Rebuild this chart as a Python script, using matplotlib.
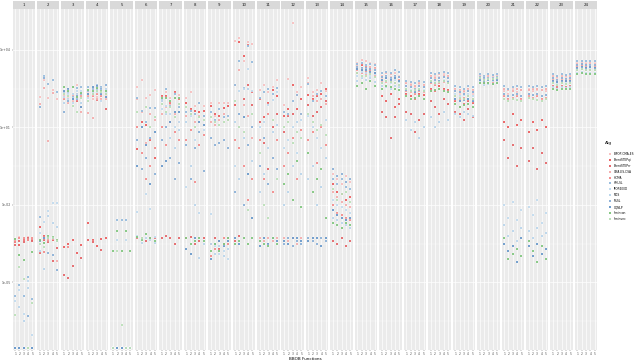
"""BBOB per-function log10 error by dimension index, faceted by function."""
import matplotlib
matplotlib.use("Agg")
import matplotlib.pyplot as plt
import numpy as np

ALGS = ["BIPOP-CMA-ES", "BrentSTEPqi", "BrentSTEPrr", "CMA-ES-CSA", "HCMA",
        "HMLSL", "IPOP400D", "MCS", "MLSL", "OQNLP", "fmincon", "fminunc"]
COLORS = ["#F4A6A6", "#E41A1C", "#D9262B", "#F08A8A", "#EF5C5C",
          "#6A9FCF", "#A8CCE8", "#9CC3E3", "#5B8FC7", "#2C6FB5",
          "#4DAF4A", "#9ED39A"]
DIMS = [1, 2, 3, 4, 5]
YTICKS = [-5, -2, 1, 4]
YTICK_LABELS = ["1e-05", "1e-02", "1e+01", "1e+04"]

# log10 values, one row per dimension, one column per algorithm (ALGS order)
F1 = [[-3.31, -3.42, -3.54, -7.55, -3.40, -5.54, -5.73, -7.55, -7.55, -7.55, -3.31, -6.27],
      [-3.23, -3.54, -3.40, -7.55, -3.30, -5.12, -5.31, -5.96, -7.55, -7.55, -3.96, -4.42],
      [-3.35, -3.38, -3.45, -7.55, -3.30, -5.54, -6.23, -6.50, -7.55, -7.55, -4.12, -4.88],
      [-3.23, -3.38, -3.30, -7.55, -3.35, -4.80, -4.96, -5.23, -6.31, -7.55, -7.55, -7.55],
      [-3.35, -3.35, -3.40, -7.55, -3.30, -5.65, -7.04, -7.55, -7.55, -7.55, -3.81, -5.81]]
F2 = [[2.19, -2.85, -3.85, 1.90, -3.40, -2.46, -3.08, -3.77, 1.79, -3.40, -3.38, -3.50],
      [2.85, -3.19, -3.38, 2.54, -3.81, 3.00, -2.65, -4.50, 2.90, -3.30, -3.46, -3.65],
      [2.15, -3.31, -3.42, 0.46, -3.35, 2.69, -2.23, -2.42, -3.88, -3.30, -3.19, -3.30],
      [2.46, -3.35, -4.19, 2.31, -3.30, 2.85, -1.92, -2.69, -3.96, -3.30, -3.23, -3.30],
      [2.10, -3.38, -3.69, -4.19, -3.40, 2.38, -1.92, -2.85, -4.54, -3.40, -3.38, -3.40]]
F3 = [[2.30, -3.62, -4.73, 2.20, 2.10, 2.38, 2.19, 1.96, 1.58, 2.40, 2.58, 2.30],
      [2.19, -3.50, -4.85, 1.96, -3.62, 2.38, 2.30, 2.10, 2.00, 2.50, 2.40, 2.20],
      [2.10, -3.35, -4.35, 2.00, 2.20, 2.19, 1.96, 2.30, 2.08, 2.08, 2.58, 1.81],
      [2.62, -3.88, 2.00, 2.20, 2.30, 2.54, 2.40, 2.30, 2.10, 2.20, 2.19, 1.58],
      [1.77, -3.54, -4.04, 1.58, 2.20, 2.58, 2.42, 1.96, 2.30, 1.77, 2.31, 2.12]]
F4 = [[2.31, -2.69, -3.35, 1.56, 2.20, 2.58, 2.12, 2.30, 2.40, 2.30, 2.46, 2.00],
      [2.08, -3.35, -3.42, 1.35, 2.20, 2.31, 2.40, 2.30, 2.50, 2.58, 2.42, 2.30],
      [2.19, -3.58, 2.04, 2.10, 2.30, 2.65, 2.35, 2.40, 2.50, 2.60, 2.54, 2.40],
      [2.27, -3.31, -3.73, 2.08, 2.20, 2.58, 2.00, 2.40, 2.50, 2.30, 2.42, 2.35],
      [2.20, -3.27, 1.69, 2.10, 2.30, 2.46, 2.35, 2.50, 2.62, 2.19, 2.40, 2.30]]
F5 = [[-7.55, -7.55, -7.55, -7.55, -7.55, -7.55, -7.55, -7.55, -7.55, -7.55, -3.77, -7.55],
      [-7.55, -7.55, -7.55, -7.55, -7.55, -2.58, -3.38, -7.55, -7.55, -7.55, -3.00, -3.77],
      [-7.55, -7.55, -7.55, -7.55, -7.55, -2.58, -7.55, -7.55, -7.55, -7.55, -3.77, -6.65],
      [-7.55, -7.55, -7.55, -7.55, -7.55, -2.58, -3.38, -7.55, -7.55, -7.55, -3.00, -7.55],
      [-7.55, -7.55, -7.55, -7.55, -7.55, -7.55, -7.55, -7.55, -7.55, -7.55, -3.77, -7.55]]
F6 = [[2.58, 0.15, -3.30, 2.10, 1.00, 2.12, -2.27, -3.19, 0.50, -0.50, -3.25, 1.60],
      [2.85, 1.20, -3.30, 1.60, 0.00, 1.65, -3.31, -3.46, -0.60, 1.00, -3.35, -3.30],
      [2.12, 1.10, -3.40, 0.40, -1.00, 1.20, -1.60, -3.30, -0.20, 0.30, -3.12, 1.80],
      [2.27, 0.50, -3.30, 1.50, -0.50, 1.73, -2.15, -3.38, 0.60, -1.20, -3.30, 1.00],
      [2.46, -0.20, -3.30, 1.30, 0.20, 1.73, -3.23, -3.46, -0.80, 0.80, -3.40, 1.40]]
F7 = [[2.00, 2.20, -3.30, 1.50, 1.00, 2.08, 1.70, 2.00, 0.50, -0.50, 2.15, 1.90],
      [2.35, 2.20, -3.20, 1.80, 0.30, 2.50, 1.81, 1.50, 1.00, -0.30, 2.12, 1.60],
      [2.12, 1.96, -3.30, 1.88, 1.20, 1.81, 1.50, 0.60, -0.20, 1.20, 2.00, 1.80],
      [2.15, 2.35, -3.50, 1.50, 0.80, 2.30, 1.00, 0.20, -1.00, 1.60, 2.12, 1.40],
      [2.27, 2.08, -3.30, 1.20, 0.50, 1.80, 1.20, 0.90, -0.40, 1.60, 2.12, 1.90]]
F8 = [[2.12, 1.96, -3.30, 1.42, 0.50, 1.60, -1.30, 1.20, 0.30, -3.70, -3.30, 1.80],
      [2.38, 1.70, -3.23, 1.50, 0.90, 1.65, 1.42, -0.50, -1.00, -3.90, -3.50, 1.50],
      [1.81, 1.65, -3.50, 1.20, -1.10, 1.50, 0.50, -2.00, 0.20, -3.30, -3.40, 1.00],
      [1.96, 1.58, -3.40, 1.45, 0.30, 1.96, -2.30, -4.05, 0.80, 1.20, -3.30, 1.40],
      [1.81, 1.62, -3.30, 1.42, 0.70, 1.42, 0.90, -3.50, -0.70, 1.10, -3.40, 1.30]]
F9 = [[1.96, 1.81, -3.50, 1.20, -4.00, 1.58, -2.35, -3.50, 0.60, -4.10, -3.80, 1.40],
      [1.42, 1.50, -3.30, 1.10, -3.70, 1.30, -3.60, -3.90, 0.30, -3.50, -3.50, 1.20],
      [1.96, 1.42, -3.70, 1.30, -3.40, 1.69, -3.90, -3.60, 0.40, -3.40, -3.80, 1.10],
      [1.96, 1.73, -3.50, 1.50, -3.30, 1.40, -3.80, -4.00, 0.50, -3.60, -3.50, 1.20],
      [1.96, 1.81, -3.30, 1.30, -3.50, 1.42, -4.10, -3.70, 0.20, -3.40, -3.30, 1.30]]
F10 = [[4.35, 1.88, -3.40, 2.65, 0.50, 2.65, -0.50, 1.20, -1.50, -3.30, -3.50, 2.00],
       [4.46, 4.31, -3.20, 3.20, 0.20, 3.58, 2.42, -1.00, 1.50, -3.50, -3.40, 1.00],
       [3.58, 3.77, 2.10, 1.88, -0.50, 2.54, 2.50, 0.60, -2.00, 1.40, -3.30, 0.80],
       [4.31, 4.20, 2.65, 1.42, -1.80, 4.15, 3.27, 2.50, 0.30, -0.80, -3.50, -2.20],
       [4.23, 2.35, 1.88, 0.60, -1.00, 3.54, 2.40, -0.30, 1.00, -2.50, -3.30, 1.50]]
F11 = [[2.46, 2.10, 1.20, -3.30, 0.50, 2.12, 1.00, -1.50, -0.50, -3.60, -3.40, 0.00],
       [2.65, 1.40, 0.40, -3.40, -1.00, 2.38, 1.20, -0.80, 0.60, -3.30, -3.50, -2.00],
       [2.35, 1.96, -0.60, -3.30, 1.50, 2.50, 1.88, 0.20, -1.20, -3.50, -3.60, -2.50],
       [2.58, 2.46, 1.00, -3.40, -1.50, 2.30, 2.04, 0.80, -0.20, -3.30, -3.30, 1.30],
       [2.85, 2.20, 1.50, -3.30, 0.50, 2.54, 2.35, 1.10, -0.60, -3.40, -3.50, -1.00]]
F12 = [[1.88, 1.42, 0.80, -3.30, -0.50, 1.60, 0.20, -2.00, -3.50, -3.40, -1.20, 1.00],
       [2.88, 1.69, 1.42, -3.40, 0.00, 1.50, 0.50, -1.50, -3.30, -3.50, -0.80, 1.20],
       [5.04, 2.65, 1.50, -3.30, 0.60, 2.00, 1.00, -0.50, -3.60, -3.30, -1.80, 0.40],
       [2.38, 1.69, 2.27, -3.50, -1.00, 2.27, 0.00, 1.20, -3.40, -3.30, -0.30, 0.80],
       [2.58, 2.08, 1.50, -3.30, 0.90, 1.50, 1.30, -0.80, -3.50, -3.40, -2.10, 0.60]]
F13 = [[2.92, 2.27, 1.88, 2.70, 0.50, 2.69, 1.42, -1.00, -3.30, -3.40, 0.00, 1.50],
       [2.35, 2.10, 1.42, 2.20, 0.80, 2.00, 1.00, -0.50, -3.40, -3.30, -1.50, 1.20],
       [2.46, 2.20, 1.60, 2.00, -0.40, 2.30, 0.60, -2.00, -3.50, -3.30, -1.00, 0.90],
       [2.70, 2.30, 1.80, 2.10, 1.00, 2.40, 0.20, -1.30, -3.30, -3.60, -0.60, 1.10],
       [2.40, 2.50, 2.00, 1.90, 0.30, 2.20, 1.30, -0.20, -3.40, -3.30, -2.50, 0.70]]
F14 = [[-0.80, -1.20, -3.40, -1.50, -2.00, -1.00, -1.80, -2.50, -0.60, -2.20, -2.70, -1.40],
       [-1.00, -1.50, -3.50, -1.70, -2.30, -1.20, -2.00, -2.60, -0.90, -2.40, -2.80, -1.80],
       [-1.20, -1.60, -3.30, -1.90, -2.40, -1.00, -2.10, -2.70, -0.80, -2.50, -2.90, -1.60],
       [-0.90, -1.80, -3.60, -2.00, -2.50, -1.30, -2.20, -2.80, -1.10, -2.60, -2.70, -1.50],
       [-1.10, -1.70, -3.40, -2.10, -2.60, -1.40, -2.30, -2.90, -1.00, -2.50, -2.80, -1.90]]
F15 = [[3.50, 3.30, 3.10, 3.40, 3.20, 3.45, 3.00, 2.80, 3.35, 3.25, 2.60, 3.10],
       [3.60, 3.40, 3.20, 3.30, 3.10, 3.50, 3.15, 2.90, 3.30, 3.20, 2.70, 3.00],
       [3.55, 3.35, 3.15, 3.25, 3.05, 3.40, 3.10, 2.85, 3.30, 3.20, 2.50, 3.00],
       [3.50, 3.30, 3.20, 3.35, 3.10, 3.45, 3.00, 2.90, 3.25, 3.15, 2.80, 3.05],
       [3.45, 3.30, 3.10, 3.30, 3.00, 3.40, 3.05, 2.75, 3.20, 3.10, 2.60, 2.95]]
F16 = [[2.90, 2.20, 1.60, 3.00, 2.80, 3.10, 2.70, 2.60, 2.95, 2.85, 2.50, 2.70],
       [3.00, 2.00, 1.40, 3.10, 2.75, 3.15, 2.80, 2.55, 3.00, 2.90, 2.60, 2.80],
       [2.95, 2.30, 0.60, 3.05, 2.80, 3.10, 2.70, 2.50, 2.90, 2.85, 2.55, 2.75],
       [3.10, 1.80, 1.40, 3.00, 2.70, 3.20, 2.85, 2.60, 3.00, 2.90, 2.50, 2.70],
       [3.00, 2.10, 1.90, 2.95, 2.85, 3.15, 2.75, 2.55, 2.95, 2.80, 2.45, 2.65]]
F17 = [[2.60, 2.30, 1.60, 2.70, 2.40, 2.80, 2.50, 1.30, 2.60, 2.45, 2.20, 2.50],
       [2.70, 2.20, 1.50, 2.65, 2.35, 2.75, 2.45, 0.90, 2.55, 2.40, 2.10, 2.40],
       [2.55, 2.10, 0.80, 2.60, 2.30, 2.70, 2.40, 1.20, 2.50, 2.35, 2.15, 2.45],
       [2.65, 2.30, 1.30, 2.70, 2.40, 2.80, 2.50, 0.60, 2.60, 2.45, 2.20, 2.50],
       [2.60, 2.25, 1.50, 2.65, 2.35, 2.75, 2.45, 1.00, 2.55, 2.40, 2.10, 2.40]]
F18 = [[2.90, 2.50, 2.00, 3.00, 2.70, 3.10, 2.80, 1.40, 2.90, 2.75, 2.40, 2.80],
       [3.00, 2.40, 1.80, 2.90, 2.65, 3.05, 2.75, 1.00, 2.85, 2.70, 2.45, 2.70],
       [2.95, 2.60, 1.50, 3.05, 2.70, 3.10, 2.80, 1.20, 2.90, 2.80, 2.50, 2.75],
       [3.05, 2.50, 2.10, 3.00, 2.75, 3.15, 2.85, 1.60, 2.95, 2.80, 2.40, 2.80],
       [2.95, 2.45, 1.90, 3.00, 2.70, 3.10, 2.80, 1.30, 2.90, 2.75, 2.35, 2.70]]
F19 = [[2.40, 2.00, 1.60, 2.50, 2.20, 2.60, 2.30, 1.50, 2.40, 2.10, 1.90, 2.20],
       [2.30, 1.80, 1.50, 2.45, 2.10, 2.55, 2.20, 1.40, 2.35, 2.00, 1.80, 2.15],
       [2.35, 1.90, 1.30, 2.40, 2.15, 2.50, 2.25, 1.60, 2.30, 2.05, 1.85, 2.10],
       [2.40, 2.00, 1.70, 2.50, 2.20, 2.60, 2.30, 1.50, 2.40, 2.10, 1.90, 2.20],
       [2.30, 1.95, 1.40, 2.45, 2.10, 2.55, 2.20, 1.45, 2.35, 2.00, 1.80, 2.10]]
F20 = [[2.95, 2.85, 2.75, 3.00, 2.90, 3.05, 2.80, 2.70, 2.95, 2.85, 2.70, 2.90],
       [2.90, 2.80, 2.70, 2.95, 2.85, 3.00, 2.80, 2.65, 2.90, 2.80, 2.70, 2.85],
       [2.95, 2.85, 2.72, 3.00, 2.88, 3.05, 2.82, 2.68, 2.92, 2.84, 2.72, 2.88],
       [2.92, 2.82, 2.70, 2.98, 2.86, 3.02, 2.78, 2.66, 2.90, 2.82, 2.68, 2.86],
       [2.95, 2.85, 2.75, 3.00, 2.90, 3.05, 2.80, 2.70, 2.95, 2.85, 2.70, 2.90]]
F21 = [[2.40, 1.20, 0.50, 2.50, 2.20, 2.60, -2.00, -2.80, 2.30, -3.50, -3.30, 2.10],
       [2.30, 1.00, -0.20, 2.45, 2.10, 2.50, -2.50, -3.20, 2.20, -3.80, -4.10, 2.00],
       [2.50, 1.50, 0.30, 2.40, 2.15, 2.55, -1.90, -3.00, 2.25, -3.60, -3.90, 2.10],
       [2.35, 1.10, -0.50, 2.50, 2.20, 2.60, -2.60, -3.40, 2.30, -4.20, -3.70, 2.05],
       [2.45, 1.30, 0.20, 2.45, 2.10, 2.55, -2.20, -2.90, 2.20, -3.30, -4.00, 2.00]]
F22 = [[2.50, 0.80, -0.30, 2.45, 2.20, 2.60, -2.10, -3.00, 2.30, -3.60, -3.40, 2.15],
       [2.40, 1.20, 0.20, 2.50, 2.15, 2.55, -2.40, -3.30, 2.25, -4.00, -3.80, 2.10],
       [2.45, 0.90, -0.60, 2.50, 2.20, 2.60, -1.80, -2.90, 2.30, -3.50, -4.20, 2.05],
       [2.55, 1.30, 0.00, 2.45, 2.10, 2.55, -2.70, -3.20, 2.20, -3.90, -3.60, 2.00],
       [2.40, 1.00, -0.40, 2.50, 2.15, 2.60, -2.30, -3.10, 2.25, -3.70, -4.10, 2.10]]
F23 = [[2.95, 2.80, 2.60, 3.00, 2.85, 3.05, 2.75, 2.55, 2.90, 2.80, 2.50, 2.70],
       [2.90, 2.75, 2.55, 2.95, 2.80, 3.00, 2.70, 2.50, 2.85, 2.75, 2.45, 2.65],
       [2.95, 2.80, 2.60, 3.00, 2.85, 3.05, 2.75, 2.55, 2.90, 2.80, 2.50, 2.70],
       [2.92, 2.78, 2.58, 2.98, 2.82, 3.02, 2.72, 2.52, 2.88, 2.78, 2.48, 2.68],
       [2.95, 2.80, 2.60, 3.00, 2.85, 3.05, 2.75, 2.55, 2.90, 2.80, 2.50, 2.70]]
F24 = [[3.50, 3.35, 3.20, 3.45, 3.30, 3.55, 3.25, 3.10, 3.40, 3.30, 3.05, 3.20],
       [3.55, 3.40, 3.25, 3.50, 3.35, 3.55, 3.30, 3.15, 3.45, 3.35, 3.10, 3.25],
       [3.50, 3.35, 3.20, 3.45, 3.30, 3.55, 3.25, 3.10, 3.40, 3.30, 3.05, 3.20],
       [3.52, 3.38, 3.22, 3.48, 3.32, 3.55, 3.28, 3.12, 3.42, 3.32, 3.08, 3.22],
       [3.50, 3.35, 3.20, 3.45, 3.30, 3.55, 3.25, 3.10, 3.40, 3.30, 3.05, 3.20]]

FUNCS = [F1, F2, F3, F4, F5, F6, F7, F8, F9, F10, F11, F12,
         F13, F14, F15, F16, F17, F18, F19, F20, F21, F22, F23, F24]

W, H = 640, 362
PANEL_X0, PANEL_STEP, PANEL_W = 12.5, 24.45, 22.5
TOP, BOTTOM, STRIP_TOP = 9, 350, 1
YLIM = (-7.62, 5.58)


def px_axes(fig, x, y, w, h, **kw):
    return fig.add_axes([x / W, 1 - (y + h) / H, w / W, h / H], **kw)


fig = plt.figure(figsize=(6.4, 3.62), dpi=100)

for i, data in enumerate(FUNCS):
    x0 = PANEL_X0 + i * PANEL_STEP
    ax = px_axes(fig, x0, TOP, PANEL_W, BOTTOM - TOP, facecolor="#EBEBEB")
    ax.set_xlim(0.4, 5.6)
    ax.set_ylim(*YLIM)
    for s in ax.spines.values():
        s.set_visible(False)
    for yv in YTICKS:
        ax.axhline(yv, color="white", lw=0.5, zorder=0)
    for yv in [-6.5, -3.5, -0.5, 2.5]:
        ax.axhline(yv, color="white", lw=0.25, zorder=0)
    for d in DIMS:
        ax.axvline(d, color="white", lw=0.5, zorder=0)
    arr = np.array(data)
    for k in range(len(ALGS)):
        ax.plot(DIMS, arr[:, k], ls="none", marker="s", ms=2.0,
                color=COLORS[k], mec="white", mew=0.25, alpha=0.9,
                clip_on=False, zorder=3)
    ax.set_xticks(DIMS)
    ax.set_xticklabels([str(d) for d in DIMS], fontsize=2.2, color="#4D4D4D")
    ax.tick_params(axis="x", length=0.8, width=0.3, pad=0.4, colors="#4D4D4D")
    if i == 0:
        ax.set_yticks(YTICKS)
        ax.set_yticklabels(YTICK_LABELS, fontsize=2.3, color="#4D4D4D")
        ax.tick_params(axis="y", length=0.8, width=0.3, pad=0.3, colors="#4D4D4D")
    else:
        ax.set_yticks([])
    st = px_axes(fig, x0, STRIP_TOP, PANEL_W, TOP - STRIP_TOP - 0.5,
                 facecolor="#D9D9D9")
    st.set_xticks([]); st.set_yticks([])
    for s in st.spines.values():
        s.set_visible(False)
    st.text(0.5, 0.5, str(i + 1), ha="center", va="center",
            fontsize=2.8, color="#1A1A1A", transform=st.transAxes)

fig.text(305 / W, 1 - 359.5 / H, "BBOB Functions", ha="center", va="center",
         fontsize=3.0, color="black")

# legend
fig.text(605 / W, 1 - 143 / H, "Alg", ha="left", va="center", fontsize=3.2)
for k, name in enumerate(ALGS):
    yy = 154 + k * 5.9
    fig.lines.append(plt.Line2D([610 / W], [1 - yy / H], marker="s", ms=2.0,
                                color=COLORS[k], mec="white", mew=0.25,
                                transform=fig.transFigure))
    fig.text(614 / W, 1 - yy / H, name, ha="left", va="center", fontsize=2.1)

fig.savefig("out.png", dpi=100)
